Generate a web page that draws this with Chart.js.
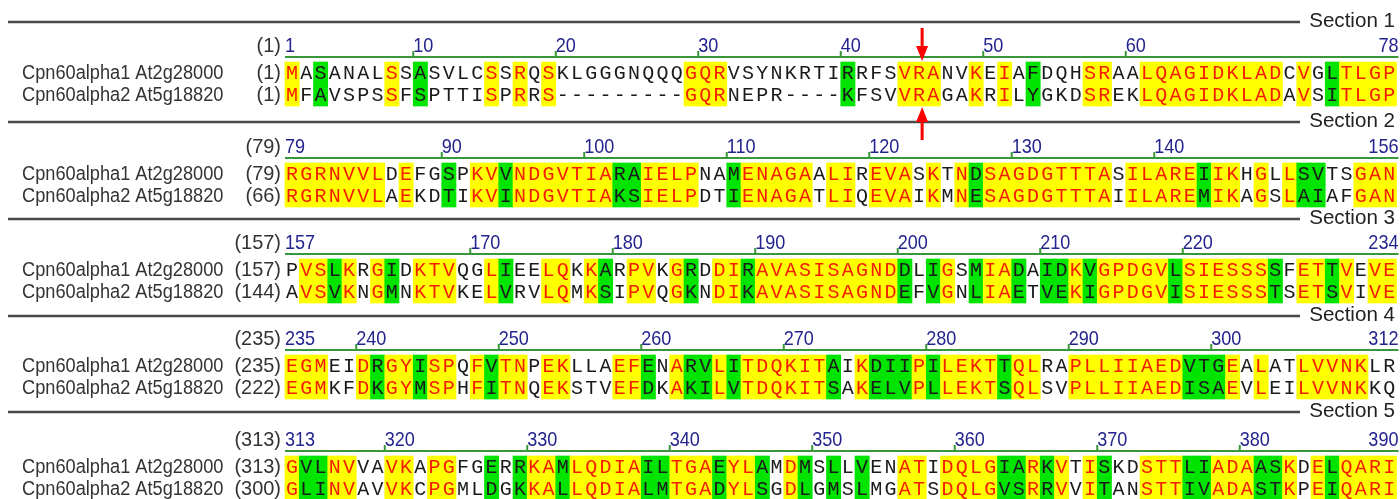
<!DOCTYPE html>
<html>
<head>
<meta charset="utf-8">
<script src="https://cdn.jsdelivr.net/npm/chart.js@4.4.1/dist/chart.umd.min.js"></script>
<style>
  html, body { margin: 0; padding: 0; background: #fff; }
  #wrap { width: 1400px; height: 499px; }
</style>
</head>
<body>
<div id="wrap"><canvas id="aln" width="1400" height="499"></canvas></div>
<script>
// alignment data, one string per section (78 columns each)
const seqNames = ["Cpn60alpha1 At2g28000", "Cpn60alpha2 At5g18820"];

const seq1Blocks = [
  "MASANALSSASVLCSSRQSKLGGGNQQQGQRVSYNKRTIRRFSVRANVKEIAFDQHSRAALQAGIDKLADCVGLTLGP",
  "RGRNVVLDEFGSPKVVNDGVTIARAIELPNAMENAGAALIREVASKTNDSAGDGTTTASILAREIIKHGLLSVTSGAN",
  "PVSLKRGIDKTVQGLIEELQKKARPVKGRDDIRAVASISAGNDDLIGSMIADAIDKVGPDGVLSIESSSSFETTVEVE",
  "EGMEIDRGYISPQFVTNPEKLLAEFENARVLITDQKITAIKDIIPILEKTTQLRAPLLIIAEDVTGEALATLVVNKLR",
  "GVLNVVAVKAPGFGERRKAMLQDIAILTGAEYLAMDMSLLVENATIDQLGIARKVTISKDSTTLIADAASKDELQARI"
];

const seq2Blocks = [
  "MFAVSPSSFSPTTISPRRS---------GQRNEPR----KFSVVRAGAKRILYGKDSREKLQAGIDKLADAVSITLGP",
  "RGRNVVLAEKDTIKVINDGVTIAKSIELPDTIENAGATLIQEVAIKMNESAGDGTTTAIILAREMIKAGSLAIAFGAN",
  "AVSVKNGMNKTVKELVRVLQMKSIPVQGKNDIKAVASISAGNDEFVGNLIAETVEKIGPDGVISIESSSTSETSVIVE",
  "EGMKFDKGYMSPHFITNQEKSTVEFDKAKILVTDQKITSAKELVPLLEKTSQLSVPLLIIAEDISAEVLEILVVNKKQ",
  "GLINVAVVKCPGMLDGKKALLQDIALMTGADYLSGDLGMSLMGATSDQLGVSRRVVITANSTTIVADASTKPEIQARI"
];

const seq1Starts = [1, 79, 157, 235, 313];
const seq2Starts = [1, 66, 144, 222, 300];

// columns (1-based within a section) shaded as similar residues
const similarCols = [
  [3, 10, 40, 53, 74],
  [12, 16, 24, 25, 32, 49, 65, 72, 73],
  [4, 8, 16, 23, 29, 33, 44, 46, 49, 52, 54, 55, 57, 63, 70, 74],
  [7, 10, 15, 26, 29, 30, 32, 39, 42, 43, 44, 46, 51, 64, 65, 66],
  [2, 3, 15, 17, 20, 26, 27, 31, 34, 37, 39, 41, 51, 52, 54, 58, 64, 65, 69, 70, 74]
];

const rulerTicks = [
  [1, 10, 20, 30, 40, 50, 60, 78],
  [79, 90, 100, 110, 120, 130, 140, 156],
  [157, 170, 180, 190, 200, 210, 220, 234],
  [235, 240, 250, 260, 270, 280, 290, 300, 312],
  [313, 320, 330, 340, 350, 360, 370, 380, 390]
];

const sectionLabels = ["Section 1", "Section 2", "Section 3", "Section 4", "Section 5"];

// arrow marks: [section index, column]
const arrowMarks = [[0, 45]];

// layout
const COL_W = 14.25;
const SEQ_LEFT = 285;
const X_MIN = 0.5 - SEQ_LEFT / COL_W;
const X_MAX = X_MIN + 1400 / COL_W;
const ROW_H = 22;
const sectionLineY = [22, 122, 219, 316, 412];
const row1Y = [73, 174, 270, 366, 467];

const YELLOW = "#ffff00";
const GREEN = "#00e400";
const RED_TXT = "#f51d00";

function cellState(s, c) {
  const p = seq1Blocks[s][c - 1], q = seq2Blocks[s][c - 1];
  if (p === q && p !== "-") return "same";
  if (similarCols[s].includes(c)) return "similar";
  return "none";
}

const cellData = [];
const cellColors = [];
seq1Blocks.forEach((row, s) => {
  for (let c = 1; c <= row.length; c++) {
    const st = cellState(s, c);
    if (st === "none") continue;
    for (let r = 0; r < 2; r++) {
      const yc = row1Y[s] + r * ROW_H;
      cellData.push({ x: c, y: [yc - ROW_H / 2, yc + ROW_H / 2] });
      cellColors.push(st === "same" ? YELLOW : GREEN);
    }
  }
});

function txt(ctx, s, x, y, font, color, align, sx) {
  ctx.save();
  ctx.font = font;
  ctx.fillStyle = color;
  ctx.textAlign = align;
  ctx.textBaseline = "middle";
  ctx.translate(x, y);
  ctx.scale(sx || 1, 1);
  ctx.fillText(s, 0, 0);
  ctx.restore();
}

const SANS = '"Liberation Sans", Arial, sans-serif';

const alignmentText = {
  id: "alignmentText",
  beforeDatasetsDraw(chart) {
    const { ctx, scales: { x, y } } = chart;
    ctx.save();
    sectionLineY.forEach((ly, s) => {
      const py = y.getPixelForValue(ly);
      ctx.strokeStyle = "#4a4a4a";
      ctx.lineWidth = 2.5;
      ctx.beginPath();
      ctx.moveTo(8, py);
      ctx.lineTo(1300, py);
      ctx.stroke();
      txt(ctx, sectionLabels[s], 1395, py - 1, "21px " + SANS, "#222", "right", 0.98);
    });
    ctx.restore();
  },
  afterDatasetsDraw(chart) {
    const { ctx, scales: { x, y } } = chart;
    ctx.save();
    seq1Blocks.forEach((row1, s) => {
      const row2 = seq2Blocks[s];
      const top = seq1Starts[s];
      const hy = y.getPixelForValue(row1Y[s] - 27);
      const ry = y.getPixelForValue(row1Y[s] - 16);

      // header start number
      txt(ctx, "(" + top + ")", 281, hy, "21px " + SANS, "#333", "right", 0.95);

      // ruler
      const x0 = x.getPixelForValue(0.5), x1 = x.getPixelForValue(row1.length + 0.5);
      ctx.strokeStyle = "#3a963a";
      ctx.lineWidth = 2;
      ctx.beginPath();
      ctx.moveTo(x0, ry);
      ctx.lineTo(x1 + 2, ry);
      ctx.stroke();
      const ticks = rulerTicks[s];
      const numFont = "21px " + SANS;
      ticks.forEach((n, i) => {
        const col = n - top + 1;
        const tx = x.getPixelForValue(col - 0.5);
        if (i === ticks.length - 1) {
          txt(ctx, String(n), x1 + 2, hy, numFont, "#24248e", "right", 0.86);
          return;
        }
        txt(ctx, String(n), tx, hy, numFont, "#24248e", "left", 0.86);
        if (i > 0) {
          ctx.beginPath();
          ctx.moveTo(tx, ry);
          ctx.lineTo(tx, ry - 6);
          ctx.stroke();
        }
      });

      // row labels
      [0, 1].forEach(r => {
        const py = y.getPixelForValue(row1Y[s] + r * ROW_H);
        const start = r === 0 ? seq1Starts[s] : seq2Starts[s];
        txt(ctx, seqNames[r], 22, py, "20px " + SANS, "#333", "left", 0.91);
        txt(ctx, "(" + start + ")", 281, py, "21px " + SANS, "#333", "right", 0.95);
      });

      // residues
      ctx.font = '20px "Liberation Mono", monospace';
      ctx.textAlign = "center";
      ctx.textBaseline = "middle";
      for (let c = 1; c <= row1.length; c++) {
        const st = cellState(s, c);
        const px = x.getPixelForValue(c);
        ctx.fillStyle = st === "same" ? RED_TXT : "#1a1a1a";
        ctx.fillText(row1[c - 1], px, y.getPixelForValue(row1Y[s]) + 1);
        ctx.fillText(row2[c - 1], px, y.getPixelForValue(row1Y[s] + ROW_H) + 1);
      }
    });

    // red arrows
    arrowMarks.forEach(([s, c]) => {
      const ax = x.getPixelForValue(c) + 3;
      const drawArrow = (yFrom, yTip) => {
        const pf = y.getPixelForValue(yFrom), pt = y.getPixelForValue(yTip);
        const dir = Math.sign(pt - pf);
        ctx.strokeStyle = "#ff0000";
        ctx.fillStyle = "#ff0000";
        ctx.lineWidth = 3;
        ctx.beginPath();
        ctx.moveTo(ax, pf);
        ctx.lineTo(ax, pt - dir * 10);
        ctx.stroke();
        ctx.beginPath();
        ctx.moveTo(ax, pt);
        ctx.lineTo(ax - 6, pt - dir * 15);
        ctx.lineTo(ax + 6, pt - dir * 15);
        ctx.closePath();
        ctx.fill();
      };
      drawArrow(row1Y[s] - 45, row1Y[s] - 12);
      drawArrow(row1Y[s] + ROW_H + 45, row1Y[s] + ROW_H + 12);
    });
    ctx.restore();
  }
};

new Chart(document.getElementById("aln"), {
  type: "bar",
  data: {
    datasets: [{
      data: cellData,
      backgroundColor: cellColors,
      borderWidth: 0,
      barPercentage: 1,
      categoryPercentage: 1
    }]
  },
  options: {
    responsive: false,
    animation: false,
    layout: { padding: 0 },
    plugins: {
      legend: { display: false },
      tooltip: { enabled: false }
    },
    scales: {
      x: { type: "linear", min: X_MIN, max: X_MAX, offset: false, display: false, ticks: { stepSize: 1 } },
      y: { type: "linear", min: 0, max: 499, reverse: true, display: false }
    }
  },
  plugins: [alignmentText]
});
</script>
</body>
</html>
